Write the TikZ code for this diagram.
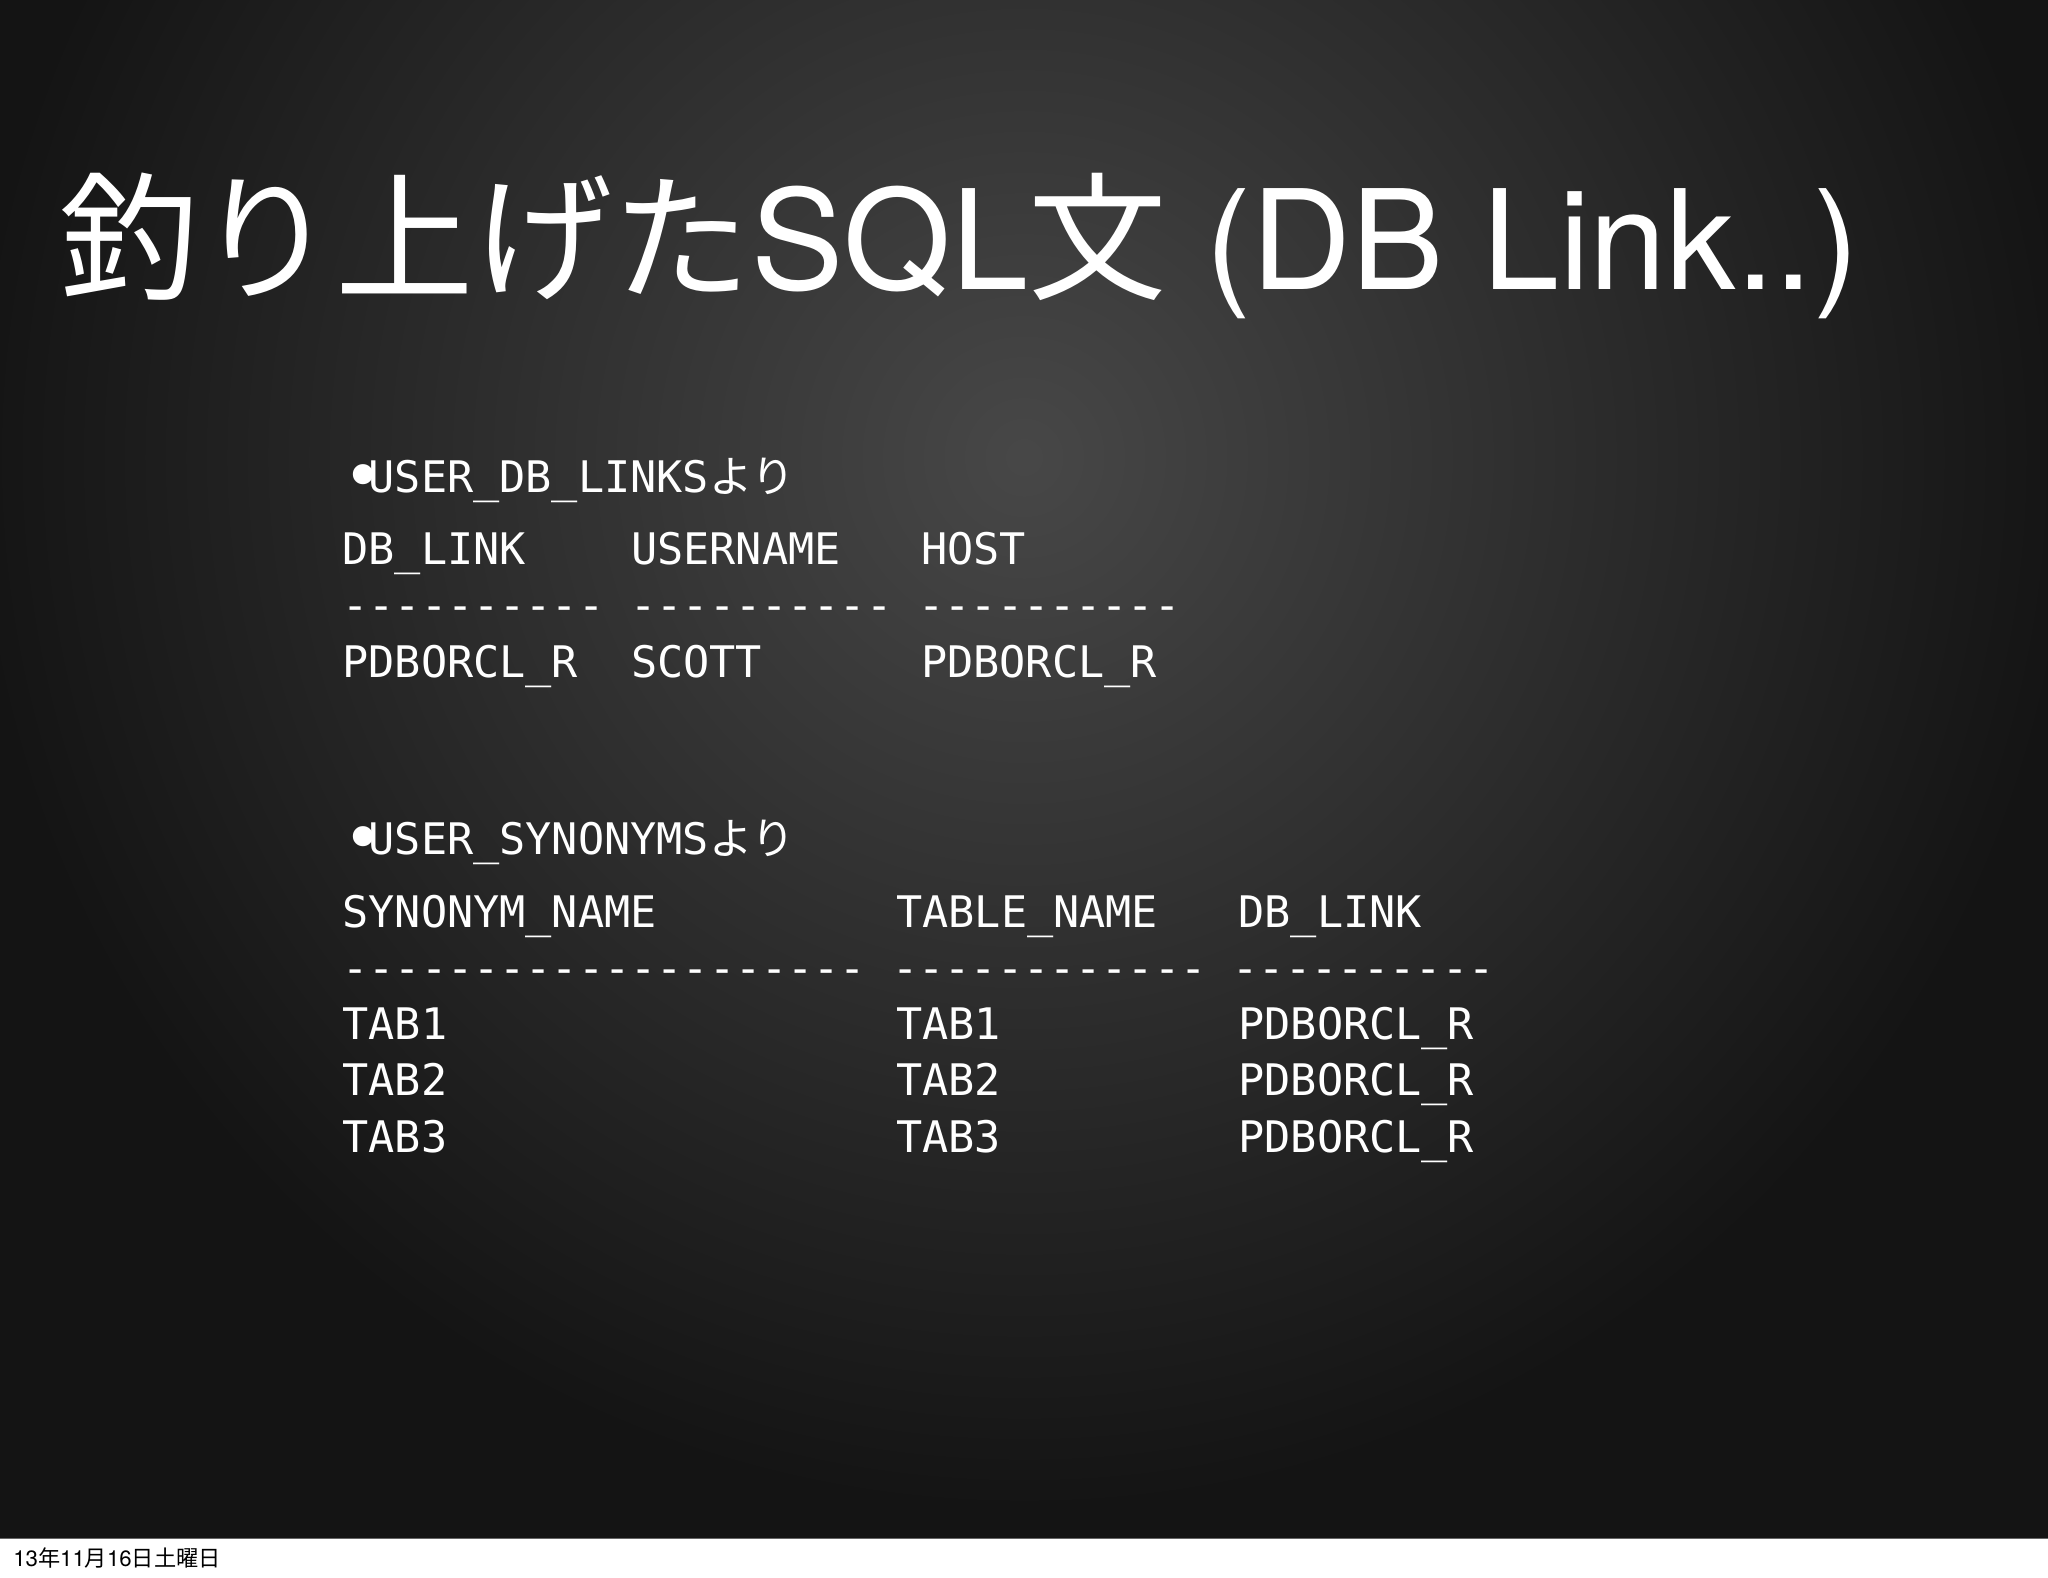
\documentclass[tikz,border=0pt]{standalone}
\usepackage{fontspec}
\setmainfont{TeX Gyre Heros}
\newfontfamily\cjk{Noto Sans CJK JP}
\setmonofont{DejaVu Sans Mono}
\newcommand\mybul{\makebox[0.602em][l]{\raisebox{-0.18em}{\scalebox{1.6}{•}}}}
\begin{document}
\begin{tikzpicture}[x=1pt,y=-1pt,
  mono/.style={anchor=base west,inner sep=0pt,text=white,font=\fontsize{33.3}{33}\ttfamily},
  title/.style={anchor=base west,inner sep=0pt,text=white,font=\fontsize{106}{106}\selectfont}]
\useasboundingbox (0,0) rectangle (1568,1208);
\fill[white] (0,0) rectangle (1568,1208);
\fill[black!92] (0,0) rectangle (1568,1178);
\begin{scope}
\clip (0,0) rectangle (1568,1178);
\shade[inner color=black!72, outer color=black!92] (784,350) circle (800);
\end{scope}
\draw[black!60] (0,1178) -- (1568,1178);
\node[title] (t) at (45,222) {{\cjk 釣り上げた}SQL{\cjk 文} (DB Link..)};
\node[mono] (h1) at (262,377) {\mybul USER\_DB\_LINKS{\cjk より}};
\node[mono] (a1) at (262,432) {DB\_LINK};
\node[mono] (a2) at (483,432) {USERNAME};
\node[mono] (a3) at (705,432) {HOST};
\node[mono] (d1) at (262,475) {---------- ---------- ----------};
\node[mono] (b1) at (262,519) {PDBORCL\_R};
\node[mono] (b2) at (483,519) {SCOTT};
\node[mono] (b3) at (705,519) {PDBORCL\_R};
\node[mono] (h2) at (262,654) {\mybul USER\_SYNONYMS{\cjk より}};
\node[mono] (s1) at (262,710) {SYNONYM\_NAME};
\node[mono] (s2) at (686,710) {TABLE\_NAME};
\node[mono] (s3) at (948,710) {DB\_LINK};
\node[mono] (d2) at (262,753) {-------------------- ------------ ----------};
\foreach \i/\y in {1/796,2/839,3/882}{
  \node[mono] (r\i a) at (262,\y) {TAB\i};
  \node[mono] (r\i b) at (686,\y) {TAB\i};
  \node[mono] (r\i c) at (948,\y) {PDBORCL\_R};
}
\node[anchor=base west,inner sep=0pt,font=\fontsize{17}{17}\selectfont] (f) at (10,1199) {13{\cjk 年}11{\cjk 月}16{\cjk 日土曜日}};
\end{tikzpicture}
\end{document}
